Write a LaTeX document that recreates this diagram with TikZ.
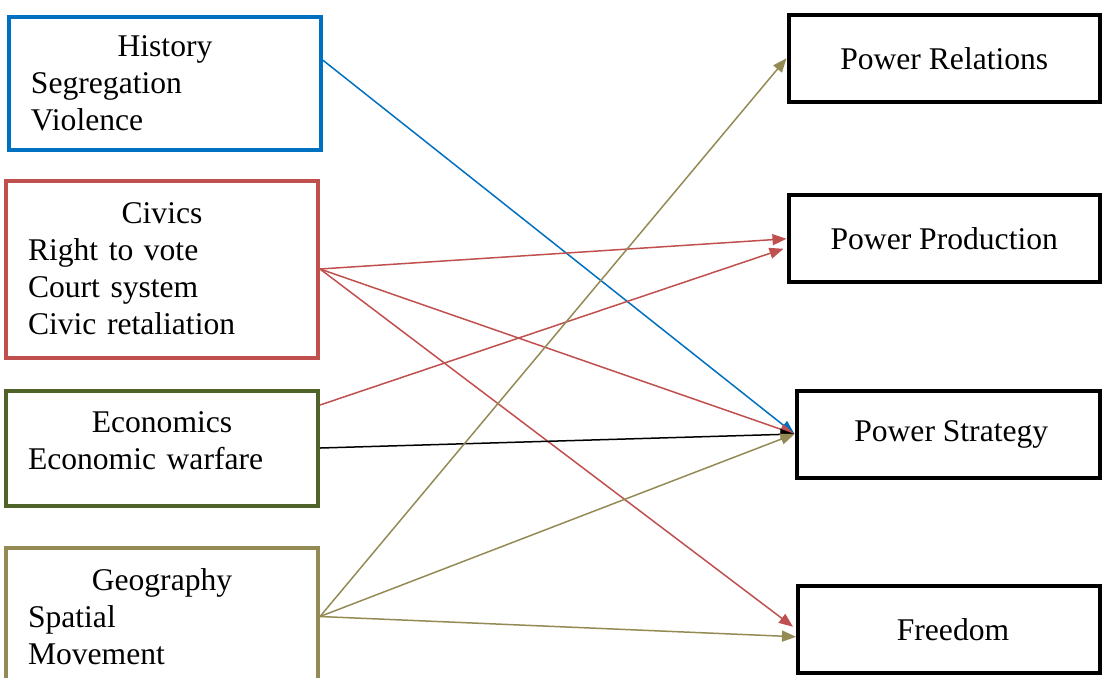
\documentclass[tikz,border=0pt]{standalone}
\usepackage{fontspec}
\setmainfont{Liberation Serif}
\usetikzlibrary{arrows.meta,calc}

\definecolor{histblue}{HTML}{0070C0}
\definecolor{civred}{HTML}{C0504D}
\definecolor{ecogreen}{HTML}{4F6228}
\definecolor{geoolive}{HTML}{948A54}

\newcommand*{\picw}{1102}
\newcommand*{\pich}{677}
\newcommand*{\boxhead}[1]{\makebox[\hsize][c]{#1}}

\begin{document}
\begin{tikzpicture}
[
	x=0.5pt, y=-0.5pt,
	font=\fontsize{15.8}{18.5}\selectfont,
	leftbox/.style={rectangle,draw,line width=2pt,text width=134pt,inner xsep=11pt,align=left,minimum height=#1},
	rightbox/.style={rectangle,draw=black,line width=2pt,inner sep=0pt,minimum width=#1,minimum height=43.5pt},
	link/.style={line width=0.75pt,-{Triangle[length=7pt,width=5.5pt]}}
]

	\useasboundingbox (0,0) rectangle (\picw,\pich);
	\clip (0,0) rectangle (\picw,\pich);

	% themes on the left
	\node[leftbox=66.25pt,draw=histblue] at (165,83.25) (hist) {\boxhead{History}\\Segregation\\Violence};
	\node[leftbox=88.5pt,draw=civred] at (162,269) (civ) {\boxhead{Civics}\\Right to vote\\Court system\\Civic retaliation};
	\node[leftbox=57.5pt,draw=ecogreen] at (162,448) (eco) {\boxhead{Economics}\\Economic warfare\rule[-7pt]{0pt}{0pt}};
	\node[leftbox=68.5pt,draw=geoolive] at (162,616.5) (geo) {\boxhead{Geography}\\Spatial\\Movement};

	% outcomes on the right
	\node[rightbox=155.75pt] at (944.25,58.25) (prel) {Power Relations};
	\node[rightbox=155.75pt] at (944.25,238.75) (pprod) {Power Production};
	\node[rightbox=151.75pt] at (948.25,434) (pstrat) {\hspace{3pt}Power Strategy};
	\node[rightbox=151pt] at (949,629.75) (free) {\hspace{4pt}Freedom};

	% links
	\draw[link,histblue] ($(hist.east)+(0,-23)$) -- (pstrat.west);
	\draw[link,civred] (civ.east) -- (pprod.west);
	\draw[link,civred] (civ.east) -- (pstrat.west);
	\draw[link,civred] (civ.east) -- ($(free.west)+(-3,-3)$);
	\draw[link,civred] ($(eco.east)+(0,-43)$) -- ($(pprod.west)+(-3,10)$);
	\draw[link,black] (eco.east) -- (pstrat.west);
	\draw[link,geoolive] (geo.east) -- (prel.west);
	\draw[link,geoolive] (geo.east) -- (pstrat.west);
	\draw[link,geoolive] (geo.east) -- ($(free.west)+(0,7)$);

\end{tikzpicture}
\end{document}
